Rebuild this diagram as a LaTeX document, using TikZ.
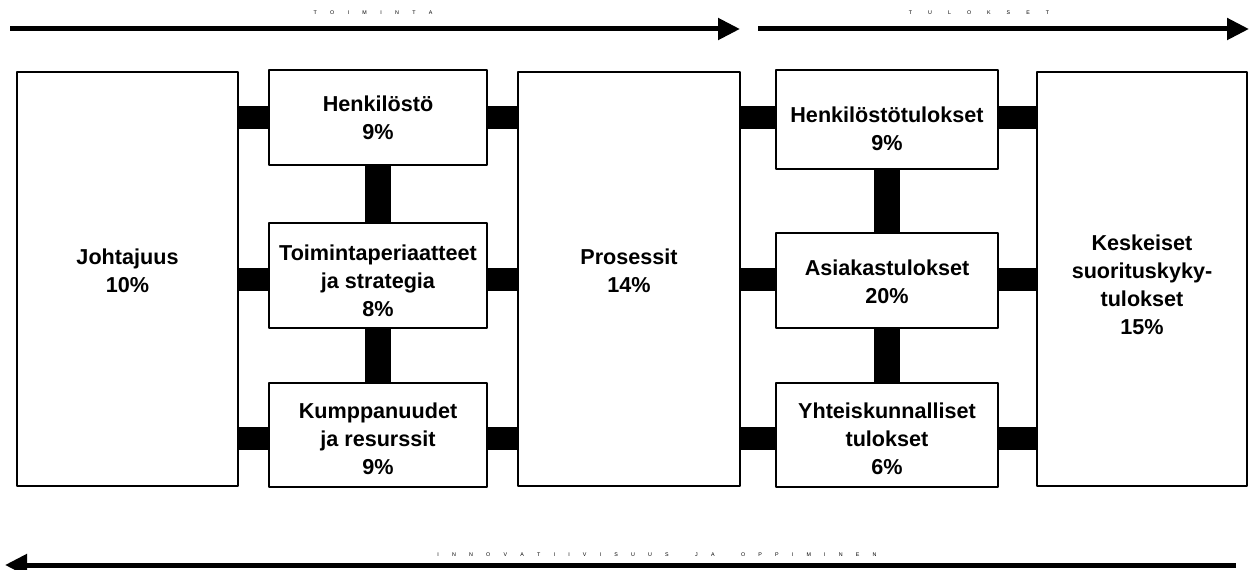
\documentclass[tikz,border=0pt]{standalone}
\usepackage{fontspec}
\setmainfont{Liberation Sans}
\usetikzlibrary{arrows.meta}
\newcommand\lk{\hspace{10pt}}
\newcommand\lkb{\hspace{12pt}}
\newcommand\lkc{\hspace{9.9pt}}
\begin{document}
\begin{tikzpicture}[x=0.75pt,y=-0.75pt,
  box/.style={draw,line width=2.2pt,line join=round,inner sep=0pt},
  thinbox/.style={box,line width=1.1pt},
  lab/.style={align=center,inner sep=0pt,font=\bfseries\fontsize{16.2}{21}\selectfont},
  bar/.style={line width=17.25pt},
  vbar/.style={line width=19.5pt},
  flow/.style={line width=3.75pt,-{Triangle[length=16.5pt,width=15.75pt]}},
  tiny/.style={font=\fontsize{4}{5}\selectfont,inner sep=0pt}]
\useasboundingbox (0,0) rectangle (1249,570);
% \bx[style]{name}{left}{top}{right}{bottom}{text shift down (px)}{text}
\newcommand\bx[8][box]{\node[#1,minimum width={(#5-#3)*0.75pt},minimum height={(#6-#4)*0.75pt},
  label={[lab,yshift={-(#7)*0.75pt}]center:{#8}}] (#2) at ({(#3+#5)/2},{(#4+#6)/2}) {};}
% boxes
\bx{jo}{17}{72}{238}{486}{-8}{Johtajuus\\10\%}
\bx{hen}{269}{70}{487}{165}{0}{Henkilöstö\\9\%}
\bx{toi}{269}{223}{487}{328}{5}{Toimintaperiaatteet\\ja strategia\\8\%}
\bx{kum}{269}{383}{487}{487}{4}{Kumppanuudet\\ja resurssit\\9\%}
\bx{pro}{518}{72}{740}{486}{-8}{Prosessit\\14\%}
\bx{ht}{776}{70}{998}{169}{9}{Henkilöstötulokset\\9\%}
\bx{as}{776}{233}{998}{328}{1}{Asiakastulokset\\20\%}
\bx{yh}{776}{383}{998}{487}{4}{Yhteiskunnalliset\\tulokset\\6\%}
\bx[thinbox]{ke}{1037}{72}{1247}{486}{6}{Keskeiset\\suorituskyky-\\tulokset\\15\%}
% row levels
\coordinate (r1) at (0,117.5);
\coordinate (r2) at (0,280);
\coordinate (r3) at (0,438.5);
% horizontal connectors
\draw[bar] (jo.east |- r1) -- (hen.west |- r1);
\draw[bar] (jo.east |- r2) -- (toi.west |- r2);
\draw[bar] (jo.east |- r3) -- (kum.west |- r3);
\draw[bar] (hen.east |- r1) -- (pro.west |- r1);
\draw[bar] (toi.east |- r2) -- (pro.west |- r2);
\draw[bar] (kum.east |- r3) -- (pro.west |- r3);
\draw[bar] (pro.east |- r1) -- (ht.west |- r1);
\draw[bar] (pro.east |- r2) -- (as.west |- r2);
\draw[bar] (pro.east |- r3) -- (yh.west |- r3);
\draw[bar] (ht.east |- r1) -- (ke.west |- r1);
\draw[bar] (as.east |- r2) -- (ke.west |- r2);
\draw[bar] (yh.east |- r3) -- (ke.west |- r3);
% vertical connectors
\draw[vbar] (hen.south) -- (toi.north);
\draw[vbar] (toi.south) -- (kum.north);
\draw[vbar] (ht.south) -- (as.north);
\draw[vbar] (as.south) -- (yh.north);
% flow arrows
\coordinate (a1s) at (10,29);
\coordinate (a1e) at (740,29);
\coordinate (a2s) at (758,29);
\coordinate (a2e) at (1249,29);
\coordinate (a3s) at (1236,565);
\coordinate (a3e) at (5,565);
\draw[flow] (a1s) -- (a1e);
\draw[flow] (a2s) -- (a2e);
\draw[flow] (a3s) -- (a3e);
% spaced captions
\node[tiny] (t1) at (373,13) {T\lk O\lk I\lk M\lk I\lk N\lk T\lk A};
\node[tiny] (t2) at (979,13) {T\lkb U\lkb L\lkb O\lkb K\lkb S\lkb E\lkb T};
\node[tiny] (t3) at (657,555) {I\lkc N\lkc N\lkc O\lkc V\lkc A\lkc T\lkc I\lkc I\lkc V\lkc I\lkc S\lkc U\lkc U\lkc S\lkc\lkc J\lkc A\lkc\lkc O\lkc P\lkc P\lkc I\lkc M\lkc I\lkc N\lkc E\lkc N};
\end{tikzpicture}
\end{document}
